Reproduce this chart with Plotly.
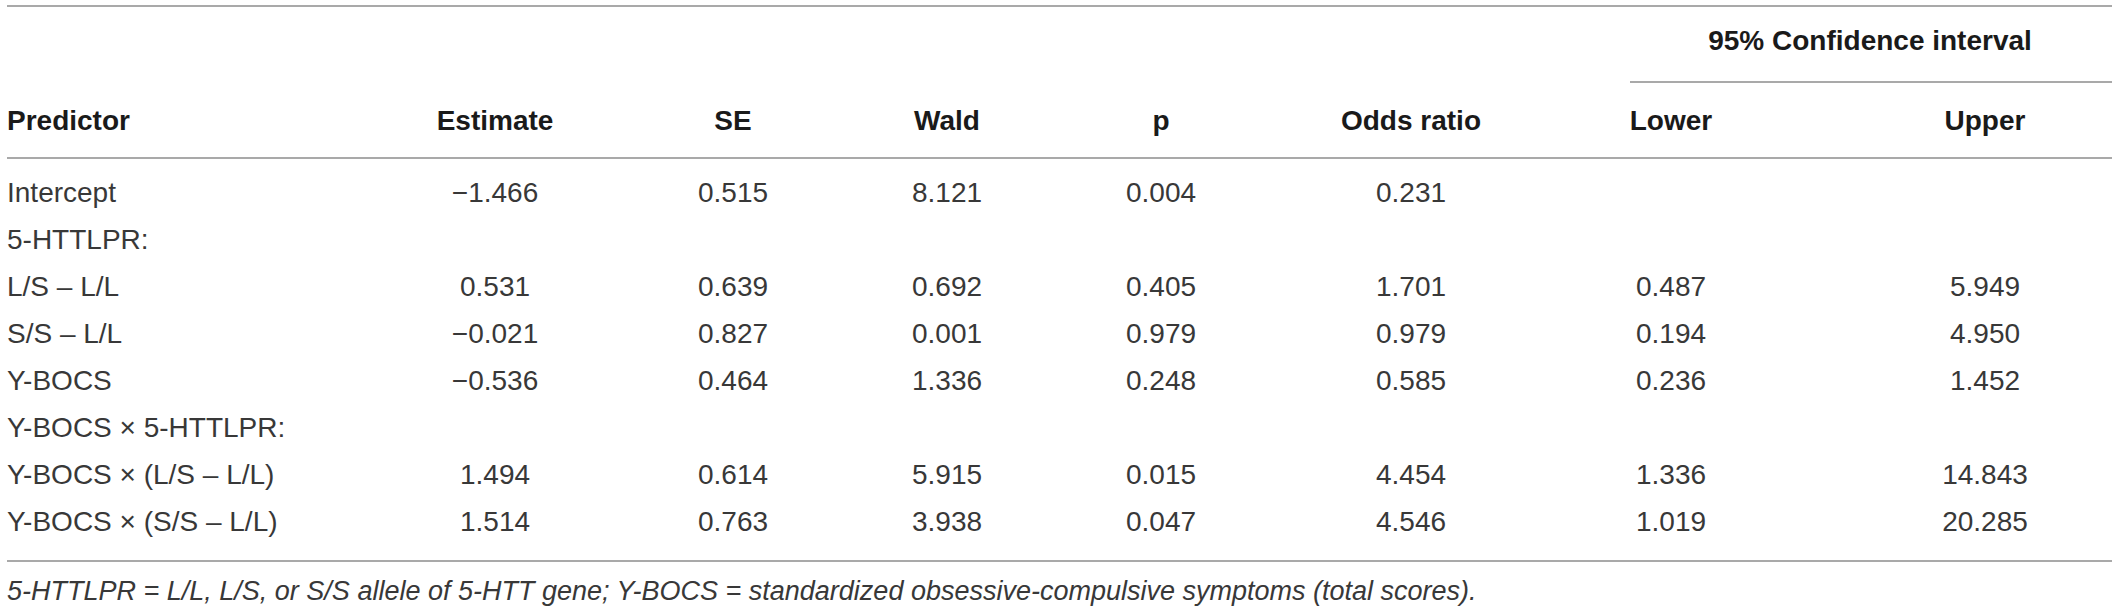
import plotly.graph_objects as go

# table content
predictors = ["Intercept", "5-HTTLPR:", "L/S – L/L", "S/S – L/L", "Y-BOCS",
              "Y-BOCS × 5-HTTLPR:", "Y-BOCS × (L/S – L/L)", "Y-BOCS × (S/S – L/L)"]
estimate = [-1.466, None, 0.531, -0.021, -0.536, None, 1.494, 1.514]
se = [0.515, None, 0.639, 0.827, 0.464, None, 0.614, 0.763]
wald = [8.121, None, 0.692, 0.001, 1.336, None, 5.915, 3.938]
p_val = [0.004, None, 0.405, 0.979, 0.248, None, 0.015, 0.047]
odds_ratio = [0.231, None, 1.701, 0.979, 0.585, None, 4.454, 4.546]
ci_lower = [None, None, 0.487, 0.194, 0.236, None, 1.336, 1.019]
ci_upper = [None, None, 5.949, 4.950, 1.452, None, 14.843, 20.285]

headers = ["Estimate", "SE", "Wald", "p", "Odds ratio", "Lower", "Upper"]
footnote = ("5-HTTLPR = L/L, L/S, or S/S allele of 5-HTT gene; "
            "Y-BOCS = standardized obsessive-compulsive symptoms (total scores).")

W, H = 2118, 609
col_x = [495, 733, 947, 1161, 1411, 1671, 1985]
row_y = [195 + 47 * i for i in range(len(predictors))]
FONT = "Liberation Sans, Arial, Helvetica, sans-serif"
TXT = "#383838"
HEAD = "#1a1a1a"
LINE = "#8c8c8c"


def fmt(v):
    if v is None:
        return ""
    return f"{v:.3f}".replace("-", "\u2212")


fig = go.Figure()

# predictor names, left aligned
fig.add_trace(go.Scatter(x=[7] * len(predictors), y=row_y, text=predictors,
                         mode="text", textposition="middle right",
                         textfont=dict(family=FONT, size=28, color=TXT)))

columns = [estimate, se, wald, p_val, odds_ratio, ci_lower, ci_upper]
for cx, vals in zip(col_x, columns):
    fig.add_trace(go.Scatter(x=[cx] * len(vals), y=row_y, text=[fmt(v) for v in vals],
                             mode="text", textposition="middle center",
                             textfont=dict(family=FONT, size=28, color=TXT)))

# header row
fig.add_trace(go.Scatter(x=[7], y=[123], text=["<b>Predictor</b>"], mode="text",
                         textposition="middle right",
                         textfont=dict(family=FONT, size=28, color=HEAD)))
fig.add_trace(go.Scatter(x=col_x, y=[123] * len(col_x),
                         text=[f"<b>{h}</b>" for h in headers], mode="text",
                         textposition="middle center",
                         textfont=dict(family=FONT, size=28, color=HEAD)))
fig.add_trace(go.Scatter(x=[1870], y=[43], text=["<b>95% Confidence interval</b>"],
                         mode="text", textposition="middle center",
                         textfont=dict(family=FONT, size=28, color=HEAD)))

# footnote
fig.add_trace(go.Scatter(x=[7], y=[593], text=[f"<i>{footnote}</i>"], mode="text",
                         textposition="middle right",
                         textfont=dict(family=FONT, size=27, color=TXT)))

# rules
for x0, x1, y in [(7, 2112, 6), (1630, 2112, 82), (7, 2112, 158), (7, 2112, 561)]:
    fig.add_shape(type="line", x0=x0, x1=x1, y0=y, y1=y, xref="x", yref="y",
                  line=dict(color=LINE, width=1.5))

fig.update_layout(
    width=W, height=H,
    margin=dict(l=0, r=0, t=0, b=0),
    paper_bgcolor="white", plot_bgcolor="white",
    showlegend=False,
    xaxis=dict(range=[0, W], visible=False, fixedrange=True),
    yaxis=dict(range=[H, 0], visible=False, fixedrange=True),
)

fig.write_html("out.html", config={"displayModeBar": False, "staticPlot": True},
               post_script="document.body.style.margin='0';")
